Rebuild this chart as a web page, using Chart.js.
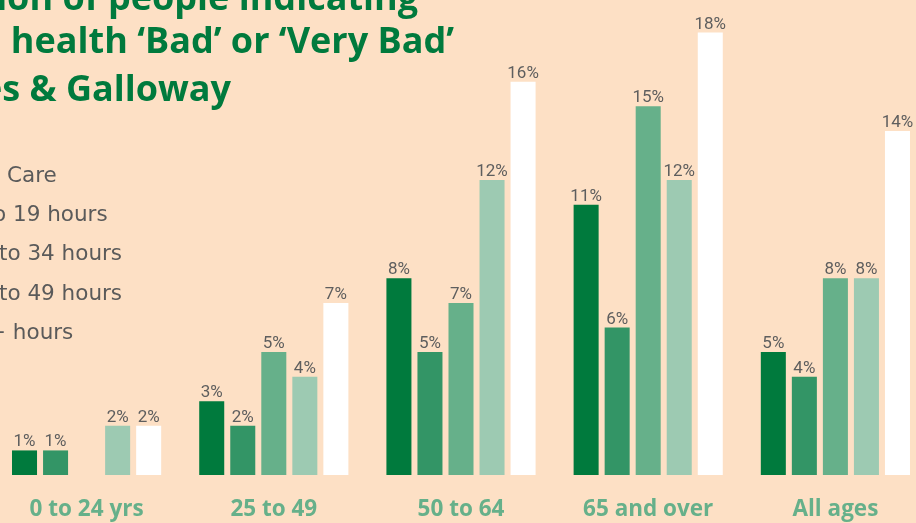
<!DOCTYPE html>
<html>
<head>
<meta charset="utf-8">
<script src="https://cdn.jsdelivr.net/npm/chart.js@4"></script>
<style>
  html, body { margin: 0; padding: 0; background: #fde0c5; overflow: hidden; width: 916px; height: 523px; }
  #wrap { position: absolute; left: -7px; top: 0; width: 936px; height: 523px; }
</style>
</head>
<body>
<div id="wrap"><canvas id="chart"></canvas></div>
<script>
const ageGroups = ["0 to 24 yrs", "25 to 49", "50 to 64", "65 and over", "All ages"];
const noCare = [1, 3, 8, 11, 5];
const hours1to19 = [1, 2, 5, 6, 4];
const hours20to34 = [null, 5, 7, 15, 8];
const hours35to49 = [2, 4, 12, 12, 8];
const hours50plus = [2, 7, 16, 18, 14];
const seriesNames = ["No Care", "1 to 19 hours", "20 to 34 hours", "35 to 49 hours", "50+ hours"];
// only the part of the title / legend that is still inside the picture
const titleLines = ["ion of people indicating", "health \u2018Bad\u2019 or \u2018Very Bad\u2019", "es & Galloway"];
const legendVisible = ["Care", "o 19 hours", "to 34 hours", "to 49 hours", "+ hours"];

const colours = ["#007a3d", "#339566", "#66b08a", "#9dcab2", "#ffffff"];
const OFF = 7; // canvas is shifted left by this much

// labels, title and the clipped legend text
const textPlugin = {
  id: "textPlugin",
  afterDatasetsDraw(chart) {
    const ctx = chart.ctx;
    ctx.save();

    // value labels above the bars
    ctx.font = "17px Roboto";
    ctx.fillStyle = "#5e5e5e";
    ctx.textAlign = "center";
    ctx.textBaseline = "alphabetic";
    chart.data.datasets.forEach((ds, i) => {
      chart.getDatasetMeta(i).data.forEach((bar, j) => {
        if (ds.data[j] == null) return;
        ctx.fillText(ds.data[j] + "%", bar.x, bar.y - 4);
      });
    });

    // category labels
    ctx.font = "bold 22.5px 'Open Sans'";
    ctx.fillStyle = "#66b08a";
    const xs = chart.scales.x;
    ageGroups.forEach((g, i) => {
      ctx.fillText(g, xs.getPixelForValue(i), 516);
    });

    // title (cut off on the left in the original)
    ctx.font = "bold 36px 'Open Sans'";
    ctx.fillStyle = "#007a3d";
    ctx.textAlign = "right";
    const titleRight = [418, 454, 231];
    const titleBase = [10, 53, 101];
    titleLines.forEach((t, i) => {
      ctx.fillText(t, titleRight[i] + OFF, titleBase[i]);
    });

    // legend text, swatches are off the left edge
    ctx.font = "21.5px 'DejaVu Sans'";
    ctx.fillStyle = "#5a5a5a";
    ctx.textAlign = "left";
    const legendX = [7, -7, -1, -1, -12];
    const legendBase = [181.5, 221, 260, 299.5, 339];
    legendVisible.forEach((n, i) => {
      ctx.fillText(n, legendX[i] + OFF, legendBase[i]);
    });

    ctx.restore();
  }
};

const allSeries = [noCare, hours1to19, hours20to34, hours35to49, hours50plus];

new Chart(document.getElementById("chart"), {
  type: "bar",
  data: {
    labels: ageGroups,
    datasets: allSeries.map((d, i) => ({
      label: seriesNames[i],
      data: d,
      backgroundColor: colours[i],
      borderWidth: 0,
      categoryPercentage: 0.829,
      barPercentage: 0.806,
    })),
  },
  options: {
    responsive: true,
    maintainAspectRatio: false,
    animation: false,
    layout: { padding: { top: 8, bottom: 48, left: 0, right: 0 } },
    scales: {
      x: { display: false },
      y: { display: false, min: 0, max: 19 },
    },
    plugins: {
      legend: { display: false },
      tooltip: { enabled: false },
    },
  },
  plugins: [textPlugin],
});
</script>
</body>
</html>
